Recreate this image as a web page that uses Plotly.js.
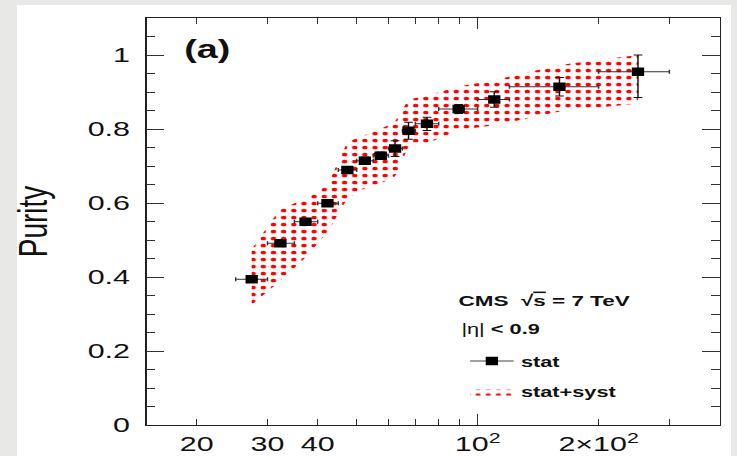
<!DOCTYPE html>
<html>
<head>
<meta charset="utf-8">
<script src="https://cdn.plot.ly/plotly-3.0.1.min.js"></script>
<style>
  html, body { margin:0; padding:0; width:737px; height:456px; overflow:hidden; background:#e8e8e6; }
  #panel { position:absolute; left:17px; top:5px; width:714px; height:451px; background:#ffffff; }
  #plot { position:absolute; left:0; top:0; width:508px; height:456px; transform:scaleX(1.4508); transform-origin:0 0; }
</style>
</head>
<body>
<div id="panel"></div>
<div id="plot"></div>
<script>
// ---- data ----
const ptX      = [27.4, 32.3, 37.3, 42.3, 47.4, 52.4, 57.4, 62.3, 67.3, 74.8, 89.7, 110.0, 159.8, 250.6];
const binLow   = [25, 30, 35, 40, 45, 50, 55, 60, 65, 70, 80, 100, 120, 200];
const binHigh  = [30, 35, 40, 45, 50, 55, 60, 65, 70, 80, 100, 120, 200, 300];
const purity   = [0.394, 0.491, 0.549, 0.599, 0.689, 0.714, 0.728, 0.747, 0.795, 0.814, 0.854, 0.880, 0.914, 0.955];
const statUp   = [0.006, 0.006, 0.006, 0.006, 0.008, 0.010, 0.010, 0.021, 0.023, 0.018, 0.012, 0.021, 0.025, 0.045];
const statDown = [0.006, 0.006, 0.006, 0.006, 0.008, 0.010, 0.010, 0.021, 0.023, 0.018, 0.012, 0.021, 0.025, 0.070];
const bandUp   = [0.475, 0.585, 0.610, 0.648, 0.765, 0.784, 0.800, 0.820, 0.880, 0.890, 0.915, 0.932, 0.973, 1.000];
const bandLow  = [0.325, 0.390, 0.453, 0.521, 0.612, 0.640, 0.653, 0.672, 0.752, 0.761, 0.797, 0.810, 0.847, 0.869];

const xTickVals  = [20, 30, 40, 100, 200];
const xTickText  = ['20', '30', '40', '10<sup>2</sup>', '2×10<sup>2</sup>'];
const xMinorVals = [50, 60, 70, 80, 90, 300];
const yTickVals  = [0, 0.2, 0.4, 0.6, 0.8, 1.0];
const yTickText  = ['0', '0.2', '0.4', '0.6', '0.8', '1'];

const FONT = 'Liberation Sans, Arial, Helvetica, sans-serif';

const xErrPlus  = ptX.map((v, i) => binHigh[i] - v);
const xErrMinus = ptX.map((v, i) => v - binLow[i]);

const bandTrace = {
  x: ptX.concat(ptX.slice().reverse()),
  y: bandUp.concat(bandLow.slice().reverse()),
  type: 'scatter', mode: 'lines',
  fill: 'toself',
  fillcolor: 'rgba(255,255,255,0)',
  fillpattern: { shape: '.', fgcolor: '#ff0000', bgcolor: 'rgba(255,255,255,0)', size: 7, solidity: 0.22 },
  line: { width: 0, color: 'rgba(0,0,0,0)' },
  name: '<b>stat+syst</b>',
  legendgroup: 'b', legendrank: 2,
  hoverinfo: 'skip'
};

const statTrace = {
  x: ptX, y: purity,
  type: 'scatter', mode: 'markers',
  marker: { symbol: 'square', size: 8.5, color: '#000000' },
  error_x: { type: 'data', symmetric: false, array: xErrPlus, arrayminus: xErrMinus, color: '#333333', thickness: 1, width: 2 },
  error_y: { type: 'data', symmetric: false, array: statUp, arrayminus: statDown, color: '#111111', thickness: 1, width: 3 },
  showlegend: false,
  hoverinfo: 'x+y'
};

// legend entry for the stat points: same data on a hidden overlay axis whose range is out of view
const statLegend = {
  x: ptX, y: purity,
  type: 'scatter', mode: 'lines+markers',
  xaxis: 'x2', yaxis: 'y2',
  marker: { symbol: 'square', size: 8.5, color: '#000000' },
  line: { color: '#444444', width: 1 },
  name: '<b>stat</b>',
  legendgroup: 'a', legendrank: 1,
  hoverinfo: 'skip'
};

const xRange = [Math.log10(15), Math.log10(400)];

const layout = {
  width: 508, height: 456,
  margin: { l: 101, r: 12, t: 18, b: 31 },
  paper_bgcolor: 'rgba(0,0,0,0)',
  plot_bgcolor: 'rgba(0,0,0,0)',
  font: { family: FONT, color: '#111111' },
  showlegend: true,
  legend: {
    x: 0.552, y: 0.197, xanchor: 'left', yanchor: 'top',
    bgcolor: 'rgba(0,0,0,0)', borderwidth: 0,
    font: { family: FONT, size: 15, color: '#111111' },
    traceorder: 'grouped', tracegroupgap: 8,
    itemwidth: 30
  },
  xaxis: {
    type: 'log', range: xRange,
    tickmode: 'array', tickvals: xTickVals, ticktext: xTickText,
    ticks: 'inside', ticklen: 6, tickwidth: 1, tickcolor: '#333333',
    minor: { tickmode: 'array', tickvals: xMinorVals, ticks: 'inside', ticklen: 6, tickwidth: 1, tickcolor: '#333333', showgrid: false },
    showline: true, linecolor: '#222222', linewidth: 1.2, mirror: 'allticks',
    showgrid: false, zeroline: false,
    tickfont: { family: FONT, size: 21, color: '#111111' },
    ticklabelstandoff: 0
  },
  xaxis2: {
    type: 'log', range: xRange, overlaying: 'x', anchor: 'y2',
    tickmode: 'array', tickvals: [100],
    ticks: 'inside', ticklen: 11, tickwidth: 1, tickcolor: '#333333',
    showticklabels: false, showline: false, mirror: 'allticks',
    showgrid: false, zeroline: false
  },
  yaxis: {
    range: [0, 1.1],
    tickmode: 'array', tickvals: yTickVals, ticktext: yTickText,
    ticks: 'inside', ticklen: 12, tickwidth: 1, tickcolor: '#333333',
    minor: { ticks: 'inside', ticklen: 6, dtick: 0.05, tick0: 0, tickcolor: '#333333', tickwidth: 1, showgrid: false },
    showline: true, linecolor: '#222222', linewidth: 1.2, mirror: 'allticks',
    showgrid: false, zeroline: false,
    tickfont: { family: FONT, size: 21, color: '#111111' },
    ticklabelstandoff: 6,
    title: { text: 'Purity', font: { family: FONT, size: 28, color: '#111111' }, standoff: 19 }
  },
  yaxis2: {
    overlaying: 'y', anchor: 'x2', range: [10, 11],
    showticklabels: false, ticks: '', showline: false, showgrid: false, zeroline: false
  },
  annotations: [
    { xref: 'paper', yref: 'paper', x: 0.061, y: 0.924, xanchor: 'left', yanchor: 'middle',
      text: '<b>(a)</b>', showarrow: false, font: { family: FONT, size: 26, color: '#111111' } },
    { xref: 'paper', yref: 'paper', x: 0.538, y: 0.305, xanchor: 'left', yanchor: 'middle',
      text: '<b>CMS  √<span style="text-decoration:overline">s</span> = 7 TeV</b>', showarrow: false,
      font: { family: FONT, size: 15.5, color: '#111111' } },
    { xref: 'paper', yref: 'paper', x: 0.544, y: 0.236, xanchor: 'left', yanchor: 'middle',
      text: '|η| <b>&lt; 0.9</b>', showarrow: false,
      font: { family: FONT, size: 15, color: '#111111' } }
  ]
};

Plotly.newPlot('plot', [bandTrace, statTrace, statLegend], layout, { displayModeBar: false, staticPlot: true });
</script>
</body>
</html>
